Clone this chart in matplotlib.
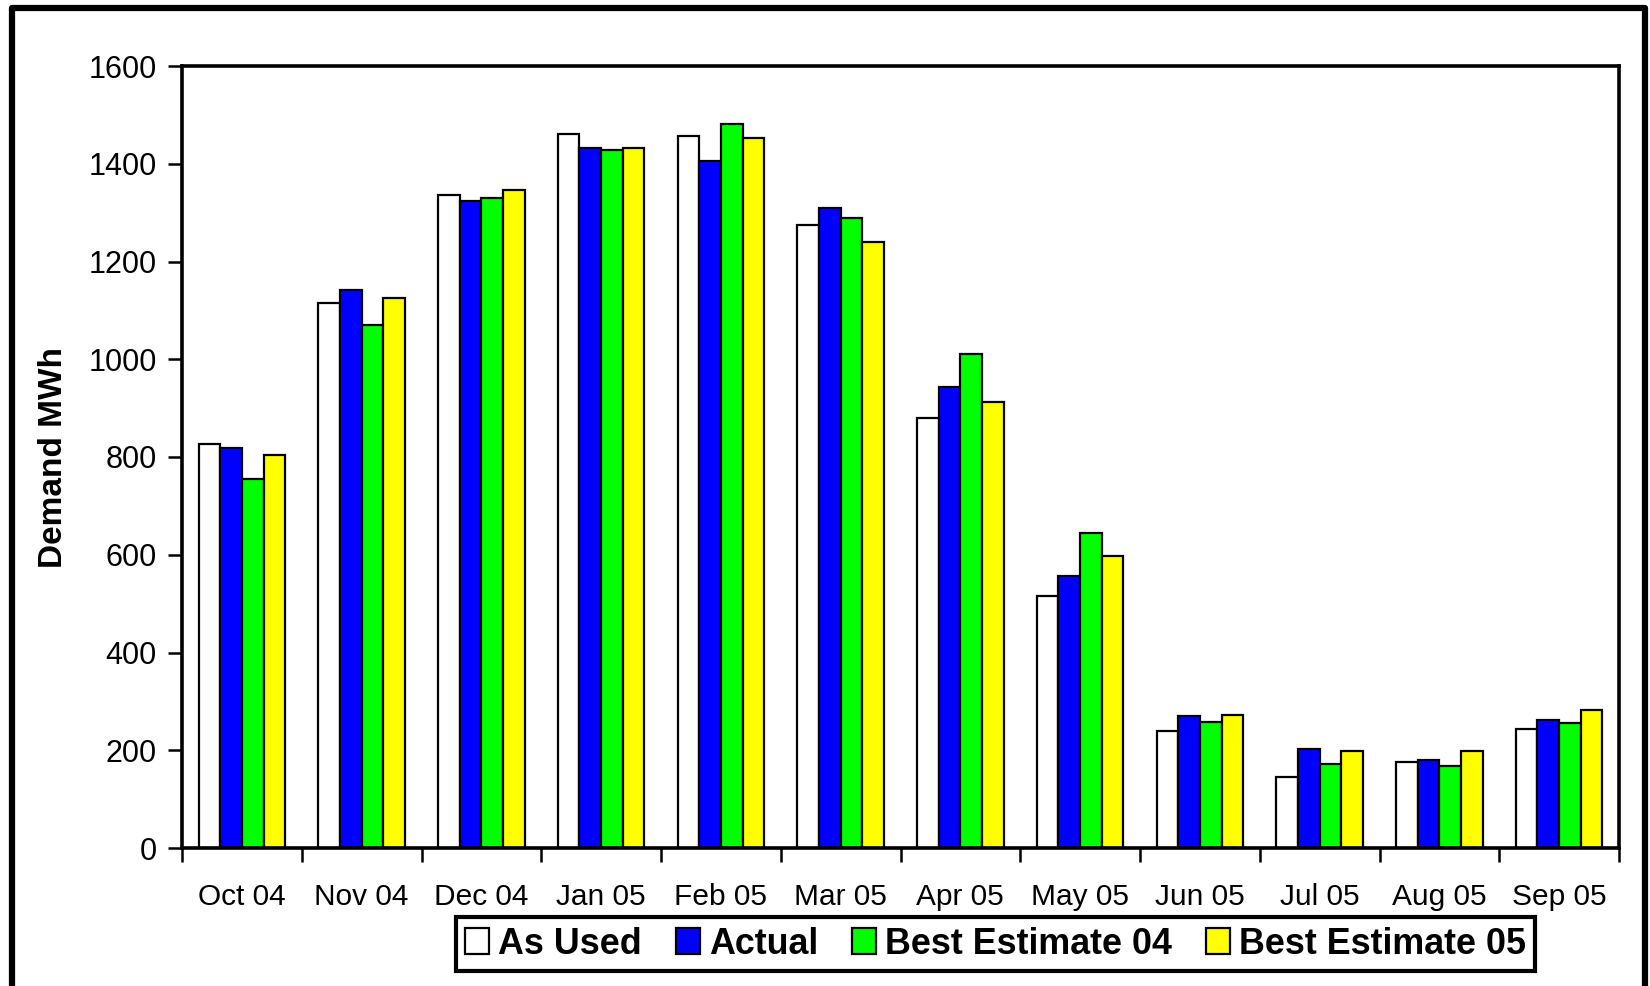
import matplotlib
matplotlib.use("Agg")
import matplotlib.pyplot as plt
from matplotlib.patches import Rectangle, Patch
import numpy as np

months = ["Oct 04", "Nov 04", "Dec 04", "Jan 05", "Feb 05", "Mar 05",
          "Apr 05", "May 05", "Jun 05", "Jul 05", "Aug 05", "Sep 05"]
as_used = [827, 1116, 1336, 1460, 1457, 1275, 879, 516, 240, 145, 175, 243]
actual = [818, 1142, 1323, 1433, 1406, 1309, 944, 557, 271, 203, 181, 262]
best_est_04 = [756, 1071, 1330, 1428, 1481, 1290, 1010, 644, 257, 172, 168, 256]
best_est_05 = [804, 1125, 1347, 1432, 1452, 1239, 912, 598, 272, 198, 199, 282]
series_names = ["As Used", "Actual", "Best Estimate 04", "Best Estimate 05"]
colors = ["#FFFFFF", "#0000FF", "#00FF00", "#FFFF00"]
yticks = [0, 200, 400, 600, 800, 1000, 1200, 1400, 1600]

plt.rcParams['font.family'] = ['Liberation Sans', 'DejaVu Sans']

W, H = 1650, 986
fig = plt.figure(figsize=(W / 100, H / 100), dpi=100)
ax = fig.add_axes([182 / W, 1 - 848 / H, (1619 - 182) / W, (848 - 66) / H])

series = [as_used, actual, best_est_04, best_est_05]
n = len(series)
bw = 0.181
x = np.arange(len(months))
for i, (vals, c) in enumerate(zip(series, colors)):
    ax.bar(x + (i - (n - 1) / 2) * bw, vals, width=bw, color=c,
           edgecolor="black", linewidth=1.6, zorder=2)

ax.set_xlim(-0.5, len(months) - 0.5)
ax.set_ylim(0, 1600)
ax.set_yticks(yticks)
ax.set_yticklabels([str(v) for v in yticks])
ax.set_xticks(x)
ax.set_xticklabels(months)
ax.set_xticks(np.arange(len(months) + 1) - 0.5, minor=True)
ax.tick_params(axis='x', which='major', length=0, pad=25.5, labelsize=21.5)
ax.tick_params(axis='x', which='minor', length=10, width=1.8, direction='out')
ax.tick_params(axis='y', which='major', length=10, width=1.8, direction='out',
               pad=8, labelsize=22)
for s in ax.spines.values():
    s.set_linewidth(2.6)
    s.set_color("black")

fig.text(54 / W, 1 - 457 / H, "Demand MWh", rotation=90, ha='center',
         va='center', fontsize=24, fontweight='bold')

handles = [Patch(facecolor=c, edgecolor='black', linewidth=1.6) for c in colors]
leg = fig.legend(handles, series_names, loc='center',
                 bbox_to_anchor=(995.5 / W, 1 - 944 / H), ncol=4,
                 prop={'weight': 'bold', 'size': 25.8},
                 handlelength=0.67, handleheight=0.76, handletextpad=0.25,
                 columnspacing=0.95, borderpad=0.26, fancybox=False,
                 frameon=True, framealpha=1, borderaxespad=0)
leg.get_frame().set_edgecolor('black')
leg.get_frame().set_linewidth(3.0)

frame = Rectangle((12 / W, 1 - 988 / H), (1645 - 12) / W, (988 - 8) / H,
                  transform=fig.transFigure, fill=False, edgecolor='black',
                  linewidth=4.5, joinstyle='round', zorder=10)
fig.patches.append(frame)

fig.savefig("out.png", dpi=100, facecolor='white')
